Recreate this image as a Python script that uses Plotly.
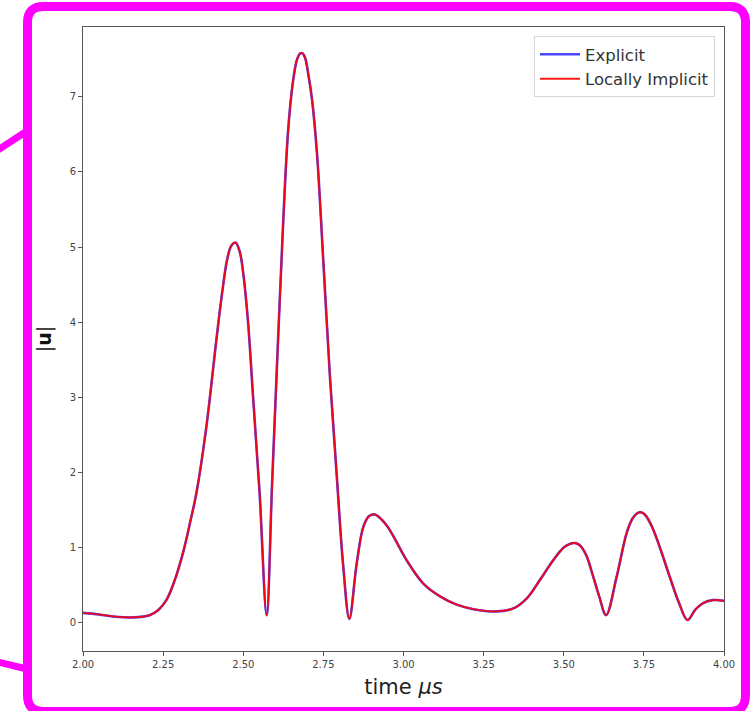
import plotly.graph_objects as go

# ---- data ----
time_us = [2.000, 2.050, 2.100, 2.156, 2.208, 2.235, 2.260, 2.285, 2.312, 2.335,
           2.354, 2.385, 2.416, 2.435, 2.450, 2.463, 2.476, 2.489, 2.500, 2.515,
           2.530, 2.551, 2.573, 2.590, 2.607, 2.624, 2.640, 2.655, 2.668, 2.678,
           2.685, 2.693, 2.703, 2.715, 2.730, 2.750, 2.771, 2.792, 2.812, 2.831,
           2.854, 2.875, 2.893, 2.911, 2.930, 2.950, 2.975, 3.010, 3.062, 3.114,
           3.166, 3.218, 3.291, 3.343, 3.384, 3.426, 3.467, 3.500, 3.520, 3.535,
           3.550, 3.570, 3.590, 3.610, 3.632, 3.665, 3.696, 3.715, 3.730, 3.741,
           3.755, 3.775, 3.800, 3.830, 3.860, 3.886, 3.910, 3.935, 3.965, 4.000]
u_explicit = [0.13, 0.11, 0.08, 0.07, 0.10, 0.17, 0.30, 0.55, 0.93, 1.35,
              1.73, 2.61, 3.76, 4.42, 4.84, 5.02, 5.06, 4.94, 4.65, 4.00,
              3.05, 1.73, 0.10, 1.85, 3.60, 5.27, 6.55, 7.20, 7.50, 7.58,
              7.58, 7.52, 7.30, 6.95, 6.25, 4.80, 3.24, 1.94, 0.75, 0.05,
              0.79, 1.28, 1.42, 1.44, 1.38, 1.28, 1.10, 0.83, 0.52, 0.35,
              0.24, 0.18, 0.15, 0.19, 0.32, 0.57, 0.83, 1.00, 1.05, 1.06,
              1.03, 0.90, 0.64, 0.36, 0.10, 0.61, 1.19, 1.39, 1.46, 1.47,
              1.43, 1.28, 1.00, 0.62, 0.26, 0.035, 0.17, 0.26, 0.30, 0.29]
u_implicit = list(u_explicit)

x_ticks = [2.00, 2.25, 2.50, 2.75, 3.00, 3.25, 3.50, 3.75, 4.00]
y_ticks = [0, 1, 2, 3, 4, 5, 6, 7]

# ---- layout geometry (pixels) ----
W, H = 755, 711
L, R, T, B = 83, 724, 27, 651


def px(x):
    return (x - L) / (R - L)


def py(y):
    return (B - y) / (B - T)


fig = go.Figure()
fig.add_trace(go.Scatter(x=time_us, y=u_explicit, mode="lines", name="Explicit",
                         line=dict(color="rgba(40,40,255,0.85)", width=2.6, shape="spline", smoothing=1.0)))
fig.add_trace(go.Scatter(x=time_us, y=u_implicit, mode="lines", name="Locally Implicit",
                         line=dict(color="rgba(255,0,0,0.9)", width=1.9, shape="spline", smoothing=1.0)))

axis_common = dict(showgrid=False, zeroline=False, showline=True, mirror=True,
                   linecolor="#555", linewidth=1, ticks="outside", ticklen=4,
                   tickcolor="#555", tickfont=dict(family="DejaVu Sans", size=10, color="#444"))

fig.update_xaxes(range=[2, 4], tickvals=x_ticks, ticktext=[f"{v:.2f}" for v in x_ticks],
                 title=dict(text="time <i>μs</i>", font=dict(family="DejaVu Sans", size=21, color="#222"),
                            standoff=10), **axis_common)
fig.update_yaxes(range=[-0.377, 7.93], tickvals=y_ticks,
                 title=dict(text="|<b>u</b>|", font=dict(family="DejaVu Sans", size=19, color="#111"),
                            standoff=12), **axis_common)

# magenta rounded frame and callout lines
x0, x1, y0, y1, r = 27.5, 745.5, 6.5, 711.5, 16
path = (f"M {px(x0 + r)},{py(y0)} L {px(x1 - r)},{py(y0)} "
        f"Q {px(x1)},{py(y0)} {px(x1)},{py(y0 + r)} "
        f"L {px(x1)},{py(y1 - r)} Q {px(x1)},{py(y1)} {px(x1 - r)},{py(y1)} "
        f"L {px(x0 + r)},{py(y1)} Q {px(x0)},{py(y1)} {px(x0)},{py(y1 - r)} "
        f"L {px(x0)},{py(y0 + r)} Q {px(x0)},{py(y0)} {px(x0 + r)},{py(y0)} Z")
shapes = [
    dict(type="path", xref="paper", yref="paper", path=path,
         line=dict(color="#ff00ff", width=9)),
    dict(type="line", xref="paper", yref="paper", x0=px(-2), y0=py(150), x1=px(27), y1=py(131),
         line=dict(color="#ff00ff", width=7)),
    dict(type="line", xref="paper", yref="paper", x0=px(-2), y0=py(662), x1=px(27), y1=py(669),
         line=dict(color="#ff00ff", width=7)),
]

fig.update_layout(
    width=W, height=H,
    margin=dict(l=L, r=W - R, t=T, b=H - B),
    paper_bgcolor="white", plot_bgcolor="white",
    font=dict(family="DejaVu Sans"),
    shapes=shapes,
    legend=dict(x=px(715), y=py(36), xanchor="right", yanchor="top",
                bordercolor="#d8d8d8", borderwidth=1, bgcolor="rgba(255,255,255,0.8)",
                font=dict(family="DejaVu Sans", size=16.5, color="#333"),
                itemwidth=40, tracegroupgap=0),
    showlegend=True,
)

fig.write_html("out.html")
